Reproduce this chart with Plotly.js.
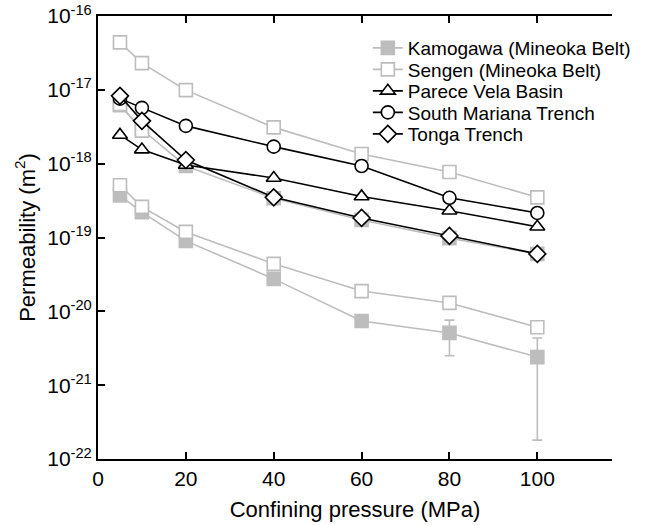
<!DOCTYPE html>
<html>
<head>
<meta charset="utf-8">
<script src="https://cdn.plot.ly/plotly-3.0.1.min.js"></script>
<style>html,body{margin:0;padding:0;background:#fff;}#chart{width:645px;height:525px;}</style>
</head>
<body>
<div id="chart"></div>
<script>
// Confining pressure (MPa)
var pressure = [5, 10, 20, 40, 60, 80, 100];

// Permeability (m^2)
var kamogawa   = [3.7e-19, 2.2e-19, 9.0e-20, 2.75e-20, 7.4e-21, 5.1e-21, 2.4e-21];
var kamoErrPlus  = [0, 0, 0, 0, 0, 2.5e-21, 1.95e-21];
var kamoErrMinus = [0, 0, 0, 0, 0, 2.6e-21, 2.22e-21];
var kamogawa2  = [6.2e-18, 2.9e-18, 9.3e-19, 3.4e-19, 1.73e-19, 9.8e-20, 6.0e-20];
var sengen     = [4.4e-17, 2.3e-17, 9.9e-18, 3.1e-18, 1.35e-18, 7.7e-19, 3.5e-19];
var sengen2    = [6.4e-18, 2.8e-18, null, null, null, null, null];
var sengen3    = [5.1e-19, 2.6e-19, 1.19e-19, 4.4e-20, 1.88e-20, 1.3e-20, 6.1e-21];
var pareceVela = [2.45e-18, 1.55e-18, 9.6e-19, 6.4e-19, 3.6e-19, 2.3e-19, 1.4e-19];
var southMariana = [7.6e-18, 5.7e-18, 3.25e-18, 1.7e-18, 9.3e-19, 3.45e-19, 2.15e-19];
var tonga      = [8.3e-18, 3.8e-18, 1.12e-18, 3.5e-19, 1.84e-19, 1.05e-19, 6.0e-20];

var yTickVals = [1e-22, 1e-21, 1e-20, 1e-19, 1e-18, 1e-17, 1e-16];
var yTickText = ['10<sup>-22</sup>','10<sup>-21</sup>','10<sup>-20</sup>','10<sup>-19</sup>','10<sup>-18</sup>','10<sup>-17</sup>','10<sup>-16</sup>'];
var xTickVals = [0, 20, 40, 60, 80, 100];

var GREY = '#bdbdbd';
var BLACK = '#000000';
var MS = 13;

function tr(name, y, symbol, fill, lineColor, legendId, extra) {
  var t = {
    x: pressure, y: y, name: name, type: 'scatter', mode: 'lines+markers',
    showlegend: !!legendId, connectgaps: false,
    line: {color: lineColor, width: 1.6},
    marker: {symbol: symbol, size: MS, color: fill, line: {color: lineColor, width: 1.6}}
  };
  if (legendId) t.legend = legendId;
  if (extra) for (var k in extra) t[k] = extra[k];
  return t;
}

var traces = [
  tr('Kamogawa (Mineoka Belt)', kamogawa, 'square', GREY, GREY, 'legend', {
    error_y: {type: 'data', symmetric: false, array: kamoErrPlus, arrayminus: kamoErrMinus,
              color: GREY, thickness: 1.6, width: 5}
  }),
  tr('Kamogawa 2', kamogawa2, 'square', GREY, GREY, null),
  tr('Sengen (Mineoka Belt)', sengen, 'square', '#ffffff', GREY, 'legend2'),
  tr('Sengen 3', sengen3, 'square', '#ffffff', GREY, null),
  tr('Sengen 2', sengen2, 'square', '#ffffff', GREY, null),
  tr('Parece Vela Basin', pareceVela, 'triangle-up', '#ffffff', BLACK, 'legend3'),
  tr('South Mariana Trench', southMariana, 'circle', '#ffffff', BLACK, 'legend4'),
  tr('Tonga Trench', tonga, 'diamond', '#ffffff', BLACK, 'legend5')
];

var FONT = '"Liberation Sans", Arial, Helvetica, sans-serif';

function leg(yc) {
  return {
    x: 0.525, xanchor: 'left', y: 1 - (yc - 16) / 443, yanchor: 'middle',
    bgcolor: 'rgba(0,0,0,0)', borderwidth: 0,
    font: {family: FONT, size: 19, color: '#000'}, itemwidth: 30
  };
}

var layout = {
  width: 645, height: 525,
  margin: {l: 98, r: 33, t: 16, b: 66, autoexpand: false},
  paper_bgcolor: '#ffffff', plot_bgcolor: '#ffffff',
  font: {family: FONT, size: 21, color: '#000'},
  showlegend: true,
  legend: leg(48),
  legend2: leg(69.5),
  legend3: leg(91),
  legend4: leg(112.5),
  legend5: leg(134),
  xaxis: {
    range: [0, 117], tickvals: xTickVals, ticktext: xTickVals.map(String),
    ticks: 'inside', ticklen: 7, tickwidth: 2, tickcolor: '#000',
    showline: true, linewidth: 2, linecolor: '#000', mirror: 'ticks',
    showgrid: false, zeroline: false, automargin: false,
    tickfont: {family: FONT, size: 21},
    title: {text: 'Confining pressure (MPa)', font: {family: FONT, size: 22}, standoff: 12}
  },
  yaxis: {
    type: 'log', range: [-22, -16], tickvals: yTickVals, ticktext: yTickText,
    ticks: 'inside', ticklen: 7, tickwidth: 2, tickcolor: '#000',
    showline: true, linewidth: 2, linecolor: '#000', mirror: false,
    showgrid: false, zeroline: false, automargin: false,
    tickfont: {family: FONT, size: 21},
    title: {text: 'Permeability (m<sup>2</sup>)', font: {family: FONT, size: 22}, standoff: 6}
  }
};

Plotly.newPlot('chart', traces, layout, {displayModeBar: false, staticPlot: true});
</script>
</body>
</html>
